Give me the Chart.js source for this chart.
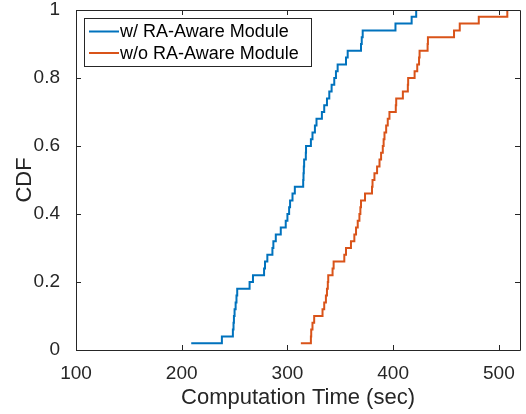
<!DOCTYPE html>
<html>
<head>
<meta charset="utf-8">
<script src="https://cdn.jsdelivr.net/npm/chart.js@4"></script>
<style>
  html, body { margin: 0; padding: 0; background: #fff; }
  #wrap { width: 526px; height: 414px; }
</style>
</head>
<body>
<div id="wrap"><canvas id="myChart" width="526" height="414"></canvas></div>
<script>
// sorted computation times (sec), 50 runs each
const withModule = [209, 238, 248.4, 249, 249.4, 250, 251, 251.8, 252.5, 264.2,
  267.4, 277.9, 278.8, 281, 285.8, 286.7, 289, 293.7, 298.4, 300,
  301.6, 302.5, 304.8, 307, 314.9, 315.2, 315.5, 315.8, 317.4, 317.6,
  322.2, 323.7, 326, 327.5, 332.6, 334.8, 337.4, 339.6, 341.8, 344.3,
  345.9, 347.5, 355.4, 357, 369.6, 370.3, 371.2, 402.2, 417.5, 421.8];
const withoutModule = [312.7, 322.2, 322.5, 323.7, 325.3, 333.2, 334.8, 336.4, 337.4, 338.2,
  338.6, 342.7, 343.7, 353.8, 355.4, 360.1, 363.3, 364.9, 366.5, 368.1,
  369, 369.6, 373.4, 380, 380.5, 382.3, 384.8, 387.1, 388.6, 390.2,
  391, 391.8, 393.4, 394.9, 396.5, 402.5, 402.9, 409.2, 413.9, 414.2,
  420.3, 422.8, 424.5, 425, 432.6, 432.9, 457.6, 463, 481, 508];
const seriesLabels = ['w/ RA-Aware Module', 'w/o RA-Aware Module'];
const xTicks = [100, 200, 300, 400, 500];
const yTicks = [0, 0.2, 0.4, 0.6, 0.8, 1];

const font = '"Liberation Sans", Arial, Helvetica, sans-serif';
const txt = '#262626';

function cdf(times) {
  return times.map((t, i) => ({ x: t, y: (i + 1) / times.length }));
}

// box + inward ticks + legend, matlab style
const boxPlugin = {
  id: 'box',
  afterDatasetsDraw(chart) {
    const { ctx, chartArea: a, scales: { x, y } } = chart;
    ctx.save();
    ctx.strokeStyle = txt;
    ctx.lineWidth = 1;
    ctx.beginPath();
    ctx.rect(a.left + 0.5, a.top + 0.5, a.right - a.left, a.bottom - a.top);
    const len = 5;
    xTicks.forEach(v => {
      const px = Math.round(x.getPixelForValue(v)) + 0.5;
      ctx.moveTo(px, a.bottom); ctx.lineTo(px, a.bottom - len);
      ctx.moveTo(px, a.top); ctx.lineTo(px, a.top + len);
    });
    yTicks.forEach(v => {
      const py = Math.round(y.getPixelForValue(v)) + 0.5;
      ctx.moveTo(a.left, py); ctx.lineTo(a.left + len, py);
      ctx.moveTo(a.right, py); ctx.lineTo(a.right - len, py);
    });
    ctx.stroke();

    // legend
    const lx = a.left + 8, ly = a.top + 8, lw = 227, lh = 48;
    ctx.fillStyle = '#fff';
    ctx.fillRect(lx, ly, lw, lh);
    ctx.strokeStyle = '#262626';
    ctx.strokeRect(lx + 0.5, ly + 0.5, lw, lh);
    ctx.font = '18px ' + font;
    ctx.textBaseline = 'middle';
    chart.data.datasets.forEach((ds, i) => {
      const cy = ly + 13.5 + i * 21.5;
      ctx.strokeStyle = ds.borderColor;
      ctx.lineWidth = 2;
      ctx.beginPath();
      ctx.moveTo(lx + 5, cy); ctx.lineTo(lx + 35, cy);
      ctx.stroke();
      ctx.fillStyle = '#000';
      ctx.fillText(ds.label, lx + 36, cy + 1);
    });
    ctx.restore();
  }
};

new Chart(document.getElementById('myChart'), {
  type: 'line',
  data: {
    datasets: [
      { label: seriesLabels[0], data: cdf(withModule), borderColor: '#0072BD', borderWidth: 2, stepped: 'before', pointRadius: 0 },
      { label: seriesLabels[1], data: cdf(withoutModule), borderColor: '#D95319', borderWidth: 2, stepped: 'before', pointRadius: 0 }
    ]
  },
  options: {
    responsive: false,
    animation: false,
    layout: { padding: { top: 0, right: 6, left: 0, bottom: 0 } },
    plugins: { legend: { display: false }, tooltip: { enabled: false } },
    scales: {
      x: {
        type: 'linear', min: 100, max: 520,
        afterBuildTicks: s => { s.ticks = xTicks.map(v => ({ value: v })); },
        afterFit: s => { s.height = 64; },
        grid: { display: false },
        border: { display: false },
        ticks: { color: txt, font: { family: font, size: 19 }, padding: 4, maxRotation: 0 },
        title: { display: true, text: 'Computation Time (sec)', color: txt, font: { family: font, size: 22 }, padding: { top: 0, bottom: 3 } }
      },
      y: {
        min: 0, max: 1,
        afterBuildTicks: s => { s.ticks = yTicks.map(v => ({ value: v })); },
        afterFit: s => { s.width = 76; s.paddingTop = 10; s.paddingBottom = 0; },
        grid: { display: false },
        border: { display: false },
        ticks: { color: txt, font: { family: font, size: 19 }, padding: 8, callback: v => String(Math.round(v * 10) / 10) },
        title: { display: true, text: 'CDF', color: txt, font: { family: font, size: 22 }, padding: { top: 12, bottom: 0 } }
      }
    }
  },
  plugins: [boxPlugin]
});
</script>
</body>
</html>
